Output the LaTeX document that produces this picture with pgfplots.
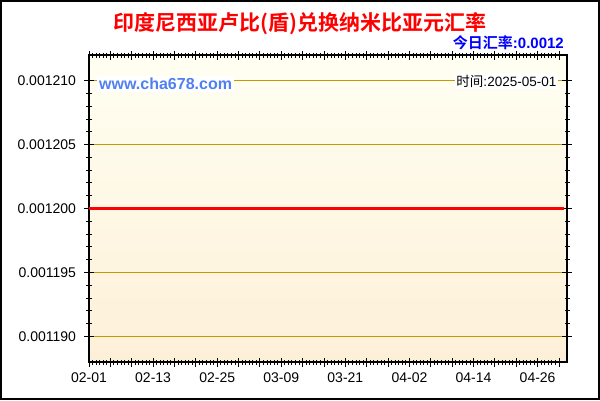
\documentclass[border=0pt]{standalone}
\usepackage{pgfplots}
\pgfplotsset{compat=1.18}
\usepackage{fontspec}
\setmainfont{Liberation Sans}
\newfontfamily\cjk{Noto Sans CJK SC}[BoldFont={Noto Sans CJK SC Bold}]

\definecolor{gridgold}{RGB}{200,150,0}
\definecolor{bgtop}{RGB}{255,255,242}
\definecolor{bgbot}{RGB}{253,240,216}
\definecolor{siteblue}{RGB}{80,128,240}

\begin{document}
\begin{tikzpicture}[x=1pt,y=1pt]
  \useasboundingbox (0,0) rectangle (600,400);
  \fill[white] (0,0) rectangle (600,400);

  \begin{axis}[
      at={(89pt,38pt)}, anchor=south west,
      scale only axis, width=478pt, height=307pt,
      xmin=0, xmax=89.5,
      ymin=0.001188, ymax=0.001212,
      axis background/.style={top color=bgtop, bottom color=bgbot},
      axis line style={black, line width=1.2pt},
      tick align=center,
      tick style={black, line width=0.9pt},
      major tick length=9pt, minor tick length=5pt,
      xtick={0,4,...,88},
      xticklabels={02-01,,,02-13,,,02-25,,,03-09,,,03-21,,,04-02,,,04-14,,,04-26,,},
      minor x tick num=5,
      ytick={0.00119,0.001195,0.0012,0.001205,0.00121},
      yticklabels={0.001190,0.001195,0.001200,0.001205,0.001210},
      minor y tick num=4,
      scaled y ticks=false,
      ymajorgrids,
      major grid style={gridgold, line width=1pt},
      ticklabel style={font=\fontsize{14}{16}\selectfont},
      yticklabel style={xshift=-5pt},
      xticklabel style={yshift=-3pt},
    ]
    \addplot[red, line width=3pt] coordinates {
      (0,0.0012) (1,0.0012) (2,0.0012) (3,0.0012) (4,0.0012) (5,0.0012)
      (6,0.0012) (7,0.0012) (8,0.0012) (9,0.0012) (10,0.0012) (11,0.0012)
      (12,0.0012) (13,0.0012) (14,0.0012) (15,0.0012) (16,0.0012) (17,0.0012)
      (18,0.0012) (19,0.0012) (20,0.0012) (21,0.0012) (22,0.0012) (23,0.0012)
      (24,0.0012) (25,0.0012) (26,0.0012) (27,0.0012) (28,0.0012) (29,0.0012)
      (30,0.0012) (31,0.0012) (32,0.0012) (33,0.0012) (34,0.0012) (35,0.0012)
      (36,0.0012) (37,0.0012) (38,0.0012) (39,0.0012) (40,0.0012) (41,0.0012)
      (42,0.0012) (43,0.0012) (44,0.0012) (45,0.0012) (46,0.0012) (47,0.0012)
      (48,0.0012) (49,0.0012) (50,0.0012) (51,0.0012) (52,0.0012) (53,0.0012)
      (54,0.0012) (55,0.0012) (56,0.0012) (57,0.0012) (58,0.0012) (59,0.0012)
      (60,0.0012) (61,0.0012) (62,0.0012) (63,0.0012) (64,0.0012) (65,0.0012)
      (66,0.0012) (67,0.0012) (68,0.0012) (69,0.0012) (70,0.0012) (71,0.0012)
      (72,0.0012) (73,0.0012) (74,0.0012) (75,0.0012) (76,0.0012) (77,0.0012)
      (78,0.0012) (79,0.0012) (80,0.0012) (81,0.0012) (82,0.0012) (83,0.0012)
      (84,0.0012) (85,0.0012) (86,0.0012) (87,0.0012) (88,0.0012) (89,0.0012)
    };
  \end{axis}

  % title and header texts
  \node[red, font=\cjk\bfseries\fontsize{21}{23}\selectfont] at (300,376)
    {印度尼西亚卢比(盾)兑换纳米比亚元汇率};
  \node[blue, anchor=east, inner sep=0pt, font=\fontsize{15}{17}\selectfont\bfseries] at (564,357)
    {{\cjk 今日汇率}:0.0012};
  \node[siteblue, fill=white, anchor=west, inner sep=2pt, font=\fontsize{16}{18}\selectfont\bfseries] at (97,316)
    {www.cha678.com};
  \node[black, fill=white, anchor=east, inner sep=1.5pt, font=\fontsize{13.5}{15}\selectfont] at (558,319)
    {{\cjk 时间}:2025-05-01};

  \draw[black, line width=2pt] (1,1) rectangle (599,399);
\end{tikzpicture}
\end{document}
